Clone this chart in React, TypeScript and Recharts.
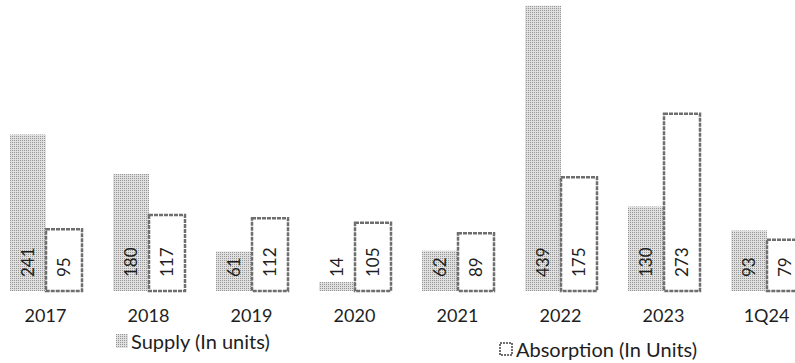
import { BarChart, Bar, XAxis, YAxis, LabelList } from "recharts";

const categories = ["2017", "2018", "2019", "2020", "2021", "2022", "2023", "1Q24"];
const supply = [241, 180, 61, 14, 62, 439, 130, 93];
const absorption = [95, 117, 112, 105, 89, 175, 273, 79];
const seriesNames = ["Supply (In units)", "Absorption (In Units)"];

const data = categories.map((year, i) => ({
  year,
  supply: supply[i],
  absorption: absorption[i],
}));

const FONT = "Lato, 'Open Sans', sans-serif";

// value written upward, anchored just above the baseline
const VerticalLabel = (props: any) => {
  const { x, y, width, height, value } = props;
  const cx = x + width / 2;
  const by = y + height - 14;
  return (
    <text
      x={cx}
      y={by}
      transform={`rotate(-90 ${cx} ${by})`}
      textAnchor="start"
      dy="0.36em"
      fontSize={17}
      fontFamily={FONT}
      fill="#1e1e1e"
    >
      {value}
    </text>
  );
};

export default function App() {
  return (
    <div
      style={{
        position: "fixed",
        left: 0,
        top: 0,
        width: 795,
        height: 363,
        overflow: "hidden",
        background: "#fff",
      }}
    >
      <svg width={0} height={0} style={{ position: "absolute" }}>
        <defs>
          <pattern id="dotsLegend" width={2} height={2} patternUnits="userSpaceOnUse">
            <rect width={2} height={2} fill="#e0e0e0" />
            <rect width={1} height={1} fill="#959595" />
          </pattern>
        </defs>
      </svg>

      <div style={{ marginLeft: -6.5 }}>
        <BarChart
          width={824}
          height={363}
          data={data}
          margin={{ top: 0, right: 0, bottom: 42, left: 0 }}
          barGap={0}
          barSize={36}
        >
          <defs>
            <pattern id="dots" width={2} height={2} patternUnits="userSpaceOnUse">
              <rect width={2} height={2} fill="#e0e0e0" />
              <rect width={1} height={1} fill="#959595" />
            </pattern>
          </defs>
          <XAxis
            dataKey="year"
            axisLine={false}
            tickLine={false}
            tickSize={6}
            tickMargin={12}
            tick={{ fontSize: 18, fontFamily: FONT, fill: "#1e1e1e" }}
            interval={0}
          />
          <YAxis hide domain={[0, 448]} />
          <Bar dataKey="supply" fill="url(#dots)" isAnimationActive={false}>
            <LabelList dataKey="supply" content={VerticalLabel} />
          </Bar>
          <Bar
            dataKey="absorption"
            fill="#ffffff"
            stroke="#6e6e6e"
            strokeWidth={2.5}
            strokeDasharray="4 1"
            isAnimationActive={false}
          >
            <LabelList dataKey="absorption" content={VerticalLabel} />
          </Bar>
        </BarChart>
      </div>

      <div
        style={{
          position: "absolute",
          left: 116,
          top: 331,
          display: "flex",
          alignItems: "center",
          gap: 3,
          fontFamily: FONT,
          fontSize: 20,
          color: "#1e1e1e",
          lineHeight: "20px",
        }}
      >
        <svg width={12} height={14} style={{ display: "block" }}>
          <rect width={12} height={14} fill="url(#dotsLegend)" />
        </svg>
        <span>{seriesNames[0]}</span>
      </div>
      <div
        style={{
          position: "absolute",
          left: 499,
          top: 339,
          display: "flex",
          alignItems: "center",
          gap: 3,
          fontFamily: FONT,
          fontSize: 20,
          color: "#1e1e1e",
          lineHeight: "20px",
        }}
      >
        <svg width={14} height={14} style={{ display: "block" }}>
          <rect x={1} y={1} width={12} height={12} fill="#fff" stroke="#6e6e6e" strokeWidth={2} strokeDasharray="2 1" />
        </svg>
        <span>{seriesNames[1]}</span>
      </div>
    </div>
  );
}
